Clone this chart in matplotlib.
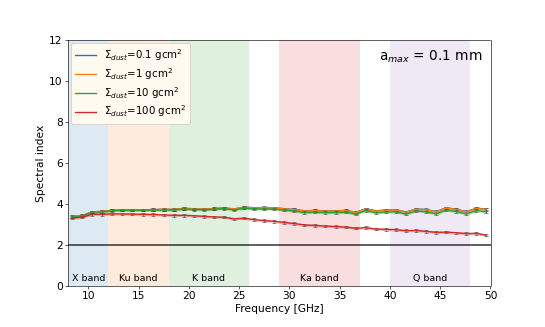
import numpy as np
from matplotlib import pyplot as plt

freq = [8.4, 9.4, 10.4, 11.4, 12.4, 13.4, 14.4, 15.4, 16.4, 17.5, 18.5, 19.5, 20.5, 21.5,
        22.5, 23.5, 24.5, 25.5, 26.5, 27.5, 28.5, 29.5, 30.5, 31.5, 32.5, 33.5, 34.6, 35.6,
        36.6, 37.6, 38.6, 39.6, 40.6, 41.6, 42.6, 43.6, 44.6, 45.6, 46.6, 47.6, 48.6, 49.6]

alpha_01 = [3.40, 3.44, 3.62, 3.64, 3.70, 3.72, 3.72, 3.72, 3.73, 3.74, 3.74, 3.79, 3.77, 3.75,
            3.78, 3.81, 3.76, 3.85, 3.82, 3.83, 3.82, 3.77, 3.74, 3.67, 3.69, 3.67, 3.67, 3.69,
            3.60, 3.77, 3.67, 3.71, 3.72, 3.61, 3.76, 3.73, 3.63, 3.82, 3.74, 3.63, 3.80, 3.75]
alpha_1 = [3.40, 3.44, 3.62, 3.64, 3.70, 3.72, 3.72, 3.72, 3.73, 3.74, 3.74, 3.79, 3.77, 3.75,
           3.78, 3.81, 3.76, 3.84, 3.81, 3.82, 3.81, 3.76, 3.73, 3.66, 3.68, 3.66, 3.66, 3.68,
           3.59, 3.76, 3.66, 3.70, 3.71, 3.60, 3.75, 3.72, 3.62, 3.81, 3.73, 3.62, 3.79, 3.74]
alpha_10 = [3.38, 3.42, 3.60, 3.62, 3.68, 3.70, 3.70, 3.70, 3.71, 3.71, 3.71, 3.76, 3.74, 3.72,
            3.75, 3.78, 3.72, 3.80, 3.76, 3.76, 3.75, 3.70, 3.66, 3.58, 3.60, 3.58, 3.58, 3.60,
            3.51, 3.68, 3.57, 3.61, 3.62, 3.51, 3.66, 3.62, 3.52, 3.71, 3.63, 3.52, 3.68, 3.62]
alpha_100 = [3.32, 3.36, 3.50, 3.50, 3.52, 3.52, 3.51, 3.50, 3.49, 3.47, 3.45, 3.45, 3.43, 3.40,
             3.37, 3.36, 3.28, 3.31, 3.24, 3.19, 3.16, 3.10, 3.05, 2.98, 2.96, 2.93, 2.90, 2.88,
             2.82, 2.85, 2.78, 2.77, 2.75, 2.70, 2.71, 2.67, 2.62, 2.63, 2.60, 2.56, 2.57, 2.48]
err = 0.06

sigma_labels = ['0.1', '1', '10', '100']
bands = ['X band', 'Ku band', 'K band', 'Ka band', 'Q band']
band_lo = [8, 12, 18, 29, 40]
band_hi = [12, 18, 26, 37, 48]
band_colors = ['C0', 'C1', 'C2', 'C3', 'C4']

plt.rcParams['font.size'] = 14

fig, ax = plt.subplots(figsize=(10, 6))
fig.subplots_adjust(left=0.125, right=0.9, top=0.878, bottom=0.125)

for lo, hi, c, name in zip(band_lo, band_hi, band_colors, bands):
    ax.axvspan(lo, hi, color=c, alpha=0.15, lw=0)
    ax.text((lo + hi) / 2, 0.15, name, ha='center', va='bottom', fontsize=12.5)

series = [alpha_01, alpha_1, alpha_10, alpha_100]
for y, lab, c in zip(series, sigma_labels, ['C0', 'C1', 'C2', 'C3']):
    y = np.array(y)
    ax.fill_between(freq, y - err, y + err, color=c, alpha=0.3, lw=0)
    ax.errorbar(freq, y, yerr=err, fmt='none', ecolor='0.3', elinewidth=0.8,
                capsize=2, capthick=0.8)
    ax.plot(freq, y, color=c, lw=1.8,
            label=r'$\Sigma_{dust}$=' + lab + r' gcm$^2$')

ax.axhline(2, color='k', lw=2, alpha=0.8)
ax.text(0.98, 0.93, r'a$_{max}$ = 0.1 mm', transform=ax.transAxes, ha='right', va='center',
        fontsize=18)

ax.set_xlim(8, 50)
ax.set_ylim(0, 12)
ax.set_xlabel('Frequency [GHz]')
ax.set_ylabel('Spectral index')
leg = ax.legend(loc='upper left', facecolor='floralwhite', framealpha=1,
                fontsize=13.5, labelspacing=0.3, borderaxespad=0.3)
fig.savefig('out.png', dpi=54.5)
